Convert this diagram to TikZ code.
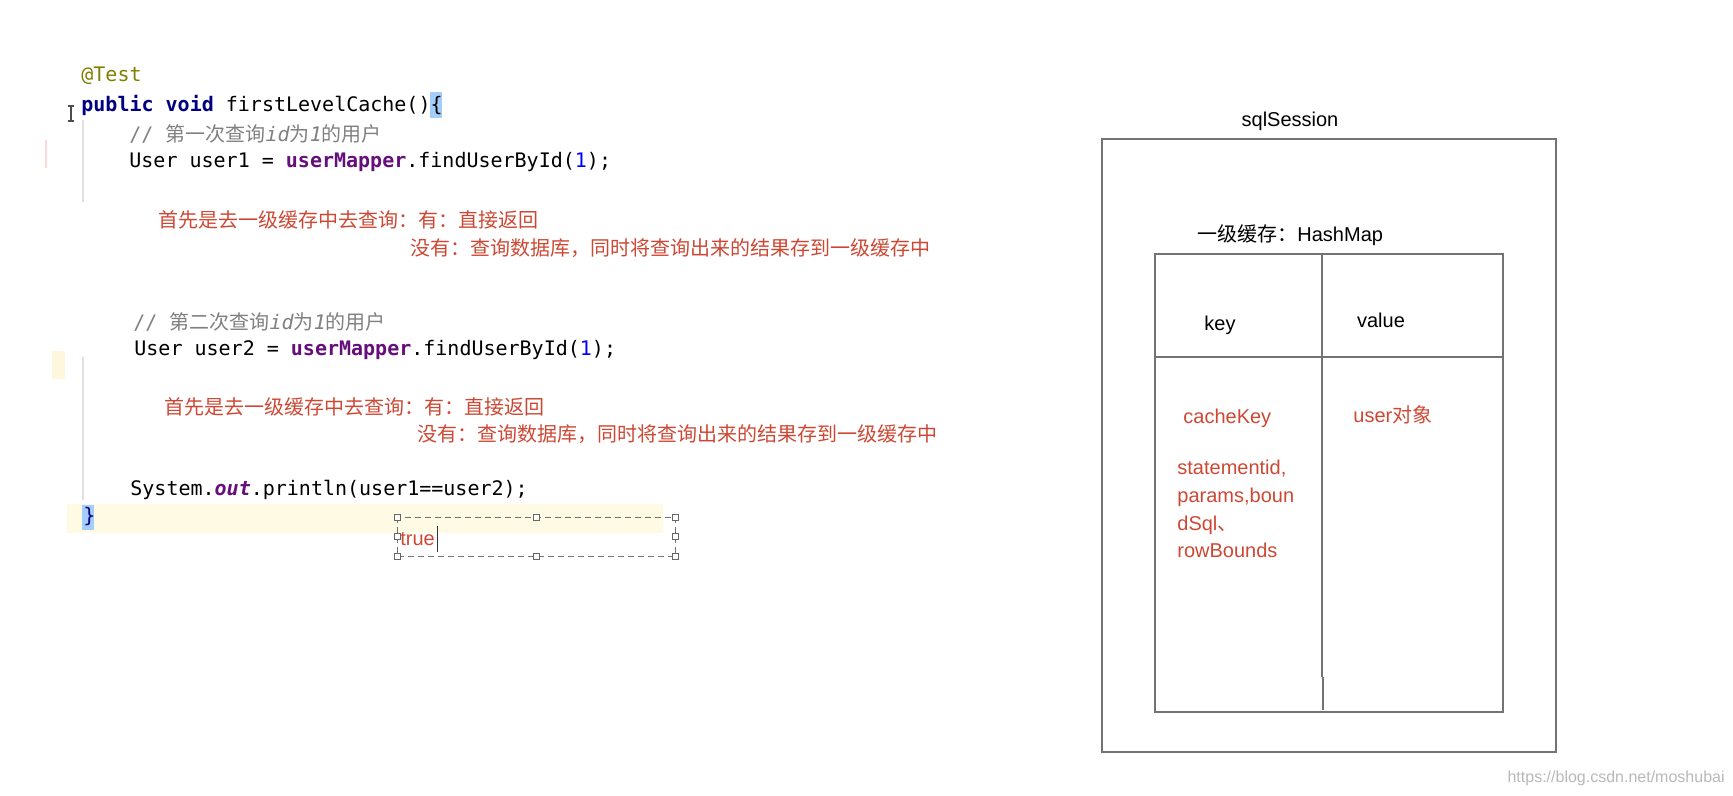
\documentclass[tikz,border=0pt]{standalone}
\usepackage{fontspec}
\setmainfont{Liberation Sans}
\newfontfamily\codefont{DejaVu Sans Mono}
\newfontfamily\cjk{Noto Sans CJK SC}

\definecolor{kwblue}{RGB}{0,0,128}
\definecolor{fieldpurple}{RGB}{102,14,122}
\definecolor{numblue}{RGB}{0,0,255}
\definecolor{annoolive}{RGB}{128,128,0}
\definecolor{commentgray}{RGB}{128,128,128}
\definecolor{notered}{RGB}{205,72,52}
\definecolor{linebg}{RGB}{255,250,227}
\definecolor{gutterbg}{RGB}{255,246,222}
\definecolor{bracebg}{RGB}{165,205,250}
\definecolor{boxgray}{RGB}{115,115,115}

\tikzset{
  codeline/.style={anchor=west, inner sep=0pt, font={\codefont\fontsize{10}{12}\selectfont}},
  note/.style={anchor=west, inner sep=0pt, text=notered, font={\cjk\fontsize{10}{12}\selectfont}},
  uitext/.style={inner sep=0pt, font={\fontsize{10}{12}\selectfont}},
  cellnote/.style={inner sep=0pt, text=notered, font={\fontsize{10}{13.8}\selectfont}},
  frame/.style={draw=boxgray, line width=1pt},
  guide/.style={draw=black!12, line width=0.6pt}
}

\begin{document}
\begin{tikzpicture}[x=0.5pt, y=-0.5pt]

    \useasboundingbox (0,0) rectangle (1733,796);

    % editor background marks
    \fill[linebg] (67,504) rectangle (663,533);
    \fill[bracebg] (430,92) rectangle (442,118);
    \fill[bracebg] (82,505) rectangle (94,530);
    \fill[gutterbg] (52,351) rectangle (65,379);
    \draw[guide] (83,120) -- (83,202);
    \draw[guide] (83,357) -- (83,500);
    \draw[red!15, line width=0.6pt] (46,140) -- (46,168);
    \draw[black!70, line width=0.6pt] (71,106) -- (71,121) (68,106) -- (74,106) (68,121) -- (74,121);

    % --------------------------------------------------
    % code
    % --------------------------------------------------
    \node[codeline, text=annoolive] (anno) at (81,76) {@Test};
    \node[codeline] (sig) at (81,105) {\textbf{\color{kwblue}public void} firstLevelCache()\{};
    \node[codeline, text=commentgray] (cmt1) at (129,134) {// {\cjk 第一次查询}\textit{id}{\cjk 为}\textit{1}{\cjk 的用户}};
    \node[codeline] (query1) at (129,162) {User user1 = \textbf{\color{fieldpurple}userMapper}.findUserById({\color{numblue}1});};

    \node[note] (hit1) at (158,220) {首先是去一级缓存中去查询：有：直接返回};
    \node[note] (miss1) at (410,248) {没有：查询数据库，同时将查询出来的结果存到一级缓存中};

    \node[codeline, text=commentgray] (cmt2) at (133,322) {// {\cjk 第二次查询}\textit{id}{\cjk 为}\textit{1}{\cjk 的用户}};
    \node[codeline] (query2) at (134,350) {User user2 = \textbf{\color{fieldpurple}userMapper}.findUserById({\color{numblue}1});};

    \node[note] (hit2) at (164,407) {首先是去一级缓存中去查询：有：直接返回};
    \node[note] (miss2) at (417,434) {没有：查询数据库，同时将查询出来的结果存到一级缓存中};

    \node[codeline] (compare) at (130,490) {System.\textbf{\textit{\color{fieldpurple}out}}.println(user1==user2);};
    \node[codeline, text=kwblue] (close) at (83,517) {\}};

    % result text box
    \draw[densely dashed, black!55, line width=0.5pt] (397,517) rectangle (675,556);
    \foreach \hx/\hy in {397/517, 536/517, 675/517, 397/536.5, 675/536.5, 397/556, 536/556, 675/556}
        \filldraw[draw=black!60, fill=white, line width=0.4pt] (\hx-3,\hy-3) rectangle (\hx+3,\hy+3);
    \node[anchor=west, inner sep=0pt, text=notered, font={\fontsize{10}{12}\selectfont}] (result) at (400,539) {true};
    \draw[black!80, line width=0.5pt] ([xshift=1pt, yshift=3pt]result.north east) -- ([xshift=1pt, yshift=-3pt]result.south east);

    % --------------------------------------------------
    % sqlSession / first level cache
    % --------------------------------------------------
    \node[uitext] (session) at (1290,121) {sqlSession};
    \draw[frame] (1102,139) rectangle (1556,752);

    \node[uitext, anchor=west] (cache) at (1197,235) {{\cjk 一级缓存：}HashMap};
    \draw[frame] (1155,254) rectangle (1503,712);
    \draw[frame] (1155,357) -- (1503,357);
    \draw[frame] (1322,254) -- (1322,677);
    \draw[frame] (1323,677) -- (1323,710);

    \node[uitext] (keyhead) at (1220,325) {key};
    \node[uitext] (valuehead) at (1381,320) {value};

    \node[cellnote, anchor=west] (cachekey) at (1183,418) {cacheKey};
    \node[cellnote, anchor=west] (userobj) at (1353,415) {user{\cjk 对象}};
    \node[cellnote, anchor=north west, align=left] (keyparts) at (1177,460) {statementid,\\params,boun\\dSql{\cjk 、}\\rowBounds};

    \node[anchor=east, inner sep=0pt, text=black!28, font={\fontsize{8}{10}\selectfont}] (mark) at (1725,778) {https://blog.csdn.net/moshubai};

\end{tikzpicture}
\end{document}
